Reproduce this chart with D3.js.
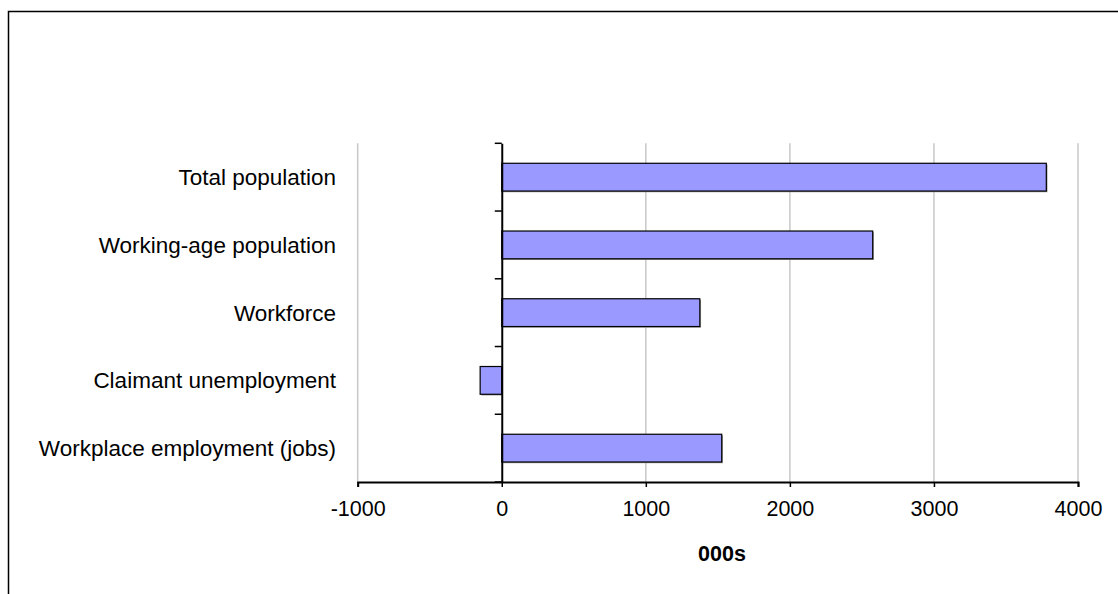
<!DOCTYPE html>
<html><head><meta charset="utf-8">
<script src="https://cdn.jsdelivr.net/npm/d3@7"></script>
<style>body{margin:0;background:#fff}svg{display:block}text{font-family:"Liberation Sans",Arial,sans-serif}</style>
</head><body>
<svg id="c" width="1118" height="594"></svg>
<script>
const categories = ["Total population","Working-age population","Workforce","Claimant unemployment","Workplace employment (jobs)"];
const values = [3780, 2575, 1375, -150, 1527];
const xTicks = [-1000, 0, 1000, 2000, 3000, 4000];
const xTitle = "000s";

const svg = d3.select("#c");
const pLeft = 357.7, pRight = 1078, pTop = 143.3, pBottom = 482;
const x = d3.scaleLinear().domain([-1000, 4000]).range([pLeft, pRight]);
const y = d3.scaleBand().domain(categories).range([pTop, pBottom]).padding(0);
const step = y.step();

// outer frame
svg.append("rect").attr("x", 8.5).attr("y", 11.5).attr("width", 1130).attr("height", 600)
  .attr("fill", "none").attr("stroke", "#000").attr("stroke-width", 1.5);

// gridlines
svg.append("g").selectAll("line").data(xTicks.filter(d => d !== 0)).join("line")
  .attr("x1", d => x(d)).attr("x2", d => x(d)).attr("y1", pTop).attr("y2", pBottom)
  .attr("stroke", "#c8c8c8").attr("stroke-width", 1.5);

// bars shadow
svg.append("g").selectAll("rect").data(values).join("rect")
  .attr("x", d => Math.min(x(0), x(d)) + 1.2)
  .attr("y", (d, i) => y(categories[i]) + step * 0.295 + 1.2)
  .attr("width", d => Math.abs(x(d) - x(0)))
  .attr("height", step * 0.41)
  .attr("fill", "#9a9a9a");

// bars
svg.append("g").selectAll("rect").data(values).join("rect")
  .attr("x", d => Math.min(x(0), x(d)))
  .attr("y", (d, i) => y(categories[i]) + step * 0.295)
  .attr("width", d => Math.abs(x(d) - x(0)))
  .attr("height", step * 0.41)
  .attr("fill", "#9999ff").attr("stroke", "#000").attr("stroke-width", 1.2);

// x axis
const xAxis = d3.axisBottom(x).tickValues(xTicks).tickSize(5).tickFormat(d => String(d));
const gx = svg.append("g").attr("transform", `translate(0,${pBottom})`).call(xAxis);
gx.select(".domain").attr("stroke", "#000").attr("stroke-width", 2);
gx.selectAll(".tick line").attr("stroke", "#000").attr("stroke-width", 1.5);
gx.selectAll(".tick text").attr("font-size", 21.5).attr("fill", "#000")
  .attr("font-family", "'Liberation Sans',Arial,sans-serif").attr("dy", 0).attr("y", 34);

// y axis at zero
const yAxis = d3.axisLeft(y).tickSize(0).tickFormat("");
const gy = svg.append("g").attr("transform", `translate(${x(0)},0)`).call(yAxis);
gy.select(".domain").attr("stroke", "#000").attr("stroke-width", 2);
gy.selectAll(".tick").remove();
// category boundary ticks
const bounds = d3.range(categories.length + 1).map(i => pTop + i * step);
svg.append("g").selectAll("line").data(bounds).join("line")
  .attr("x1", x(0) - 7).attr("x2", x(0)).attr("y1", d => d).attr("y2", d => d)
  .attr("stroke", "#000").attr("stroke-width", 1.5);

// category labels
svg.append("g").selectAll("text").data(categories).join("text")
  .attr("x", 336).attr("y", d => y(d) + step / 2).attr("dy", "0.36em")
  .attr("text-anchor", "end").attr("font-size", 22.5).attr("fill", "#000")
  .text(d => d);

// x title
svg.append("text").attr("x", 722).attr("y", 561).attr("text-anchor", "middle")
  .attr("font-size", 21.5).attr("font-weight", "bold").text(xTitle);
</script>
</body></html>
